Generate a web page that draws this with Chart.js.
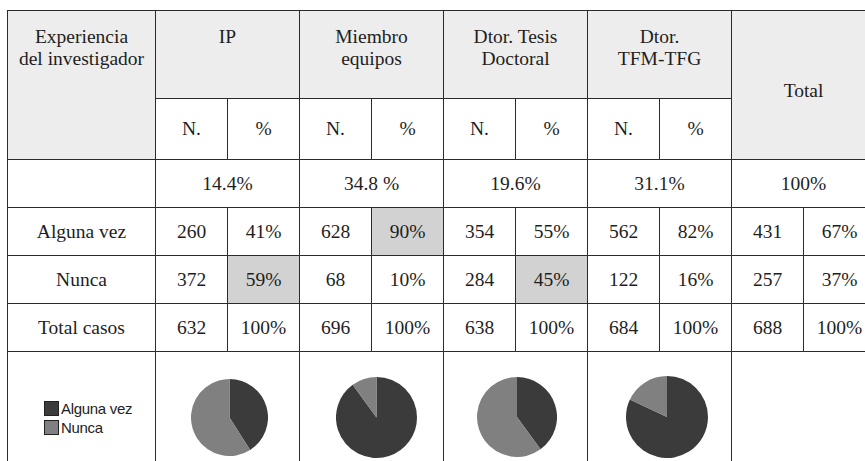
<!DOCTYPE html>
<html>
<head>
<meta charset="utf-8">
<script src="https://cdn.jsdelivr.net/npm/chart.js@4/dist/chart.umd.min.js"></script>
<style>
  html, body { margin: 0; padding: 0; background: #fff; width: 865px; height: 461px; overflow: hidden; }
  table {
    position: absolute; left: 7px; top: 10px;
    border-collapse: collapse; table-layout: fixed; width: 868px;
    color: #1e1e1e;
  }
  td {
    font-family: 'Liberation Serif', 'Times New Roman', Times, 'DejaVu Serif', serif; font-size: 19.5px;
    border: 1px solid #2b2b2b; text-align: center; vertical-align: middle; padding: 0; white-space: nowrap; overflow: hidden;
  }
  td.head { background: #ededed; vertical-align: top; padding-top: 15px; line-height: 22px; }
  td.headMid { background: #ededed; vertical-align: middle; padding-top: 12px; }
  td.shade { background: #d2d2d2; }
  .pieBox { position: relative; height: 112px; }
  .pieBox canvas { position: absolute; }
  .legend { position: absolute; left: 36px; top: 43px; font-family: 'Liberation Sans', Arial, sans-serif; font-size: 15px; color: #222; text-align: left; letter-spacing: -0.3px; line-height: 19px; }
  .legend div { display: flex; align-items: center; height: 19px; }
  .legend span.sw { display: inline-block; width: 13px; height: 13px; border: 1px solid #222; margin-right: 2px; }
</style>
</head>
<body>
<table id="tbl"></table>
<script>
// Column groups of the table
const groupLabels = [["IP"], ["Miembro", "equipos"], ["Dtor. Tesis", "Doctoral"], ["Dtor.", "TFM-TFG"]];
const totalLabel = "Total";
const rowHeaderLabel = ["Experiencia", "del investigador"];
const subLabels = ["N.", "%"];
const sampleShare = ["14.4%", "34.8 %", "19.6%", "31.1%", "100%"];
const rowLabels = ["Alguna vez", "Nunca", "Total casos"];

// Counts and percentages per group (last entry = Total)
const algunaN = [260, 628, 354, 562, 431];
const algunaPct = ["41%", "90%", "55%", "82%", "67%"];
const nuncaN = [372, 68, 284, 122, 257];
const nuncaPct = ["59%", "10%", "45%", "16%", "37%"];
const casosN = [632, 696, 638, 684, 688];
const casosPct = ["100%", "100%", "100%", "100%", "100%"];

// Pie row: share of each answer per group
const seriesNames = ["Alguna vez", "Nunca"];
const pieAlguna = [41, 90, 40, 82];
const pieNunca = [59, 10, 60, 18];

// Styling
const sliceColors = ["#3b3b3b", "#808080"];
const shadedCells = ["0-1", "1-0", "1-2"];          // row-group pairs with grey fill
const colWidths = [148, 72, 72, 72, 72, 72, 72, 72, 72, 72, 72];
const rowHeights = [88, 61, 48, 48, 48, 48, 120];
const pieLayout = [{ dx: 1, d: 77 }, { dx: 4, d: 81 }, { dx: 1, d: 80 }, { dx: 7, d: 82 }];

const tbl = document.getElementById("tbl");
const cg = document.createElement("colgroup");
colWidths.forEach(w => { const c = document.createElement("col"); c.style.width = w + "px"; cg.appendChild(c); });
tbl.appendChild(cg);

function row(h) { const tr = document.createElement("tr"); tr.style.height = h + "px"; tbl.appendChild(tr); return tr; }
function cell(tr, html, opts = {}) {
  const td = document.createElement("td");
  td.innerHTML = html;
  if (opts.cls) td.className = opts.cls;
  if (opts.colspan) td.colSpan = opts.colspan;
  if (opts.rowspan) td.rowSpan = opts.rowspan;
  tr.appendChild(td);
  return td;
}

// Header rows
let tr = row(rowHeights[0]);
cell(tr, rowHeaderLabel.join("<br>"), { cls: "head", rowspan: 2 });
groupLabels.forEach(g => cell(tr, g.join("<br>"), { cls: "head", colspan: 2 }));
cell(tr, totalLabel, { cls: "headMid", colspan: 2, rowspan: 2 });
tr = row(rowHeights[1]);
groupLabels.forEach(() => subLabels.forEach(s => cell(tr, s)));

// Share of sample
tr = row(rowHeights[2]);
cell(tr, "");
sampleShare.forEach(s => cell(tr, s, { colspan: 2 }));

// Answer rows
const bodyRows = [[algunaN, algunaPct], [nuncaN, nuncaPct], [casosN, casosPct]];
bodyRows.forEach(([ns, ps], r) => {
  const t = row(rowHeights[3 + r]);
  cell(t, rowLabels[r]);
  ns.forEach((n, g) => {
    cell(t, String(n));
    cell(t, ps[g], { cls: shadedCells.includes(r + "-" + g) ? "shade" : "" });
  });
});

// Pie row
tr = row(rowHeights[6]);
const legendTd = cell(tr, "");
const lbox = document.createElement("div");
lbox.className = "pieBox";
const legend = document.createElement("div");
legend.className = "legend";
seriesNames.forEach((name, i) => {
  const it = document.createElement("div");
  it.innerHTML = '<span class="sw" style="background:' + sliceColors[i] + '"></span>' + name;
  legend.appendChild(it);
});
lbox.appendChild(legend);
legendTd.appendChild(lbox);

groupLabels.forEach((g, i) => {
  const td = cell(tr, "", { colspan: 2 });
  const box = document.createElement("div");
  box.className = "pieBox";
  const cv = document.createElement("canvas");
  const L = pieLayout[i];
  cv.width = L.d; cv.height = L.d;
  cv.style.width = L.d + "px"; cv.style.height = L.d + "px";
  cv.style.left = (72 + L.dx - L.d / 2) + "px";
  cv.style.top = (61.5 - L.d / 2) + "px";
  box.appendChild(cv);
  td.appendChild(box);
  new Chart(cv, {
    type: "pie",
    data: {
      labels: seriesNames,
      datasets: [{ data: [pieAlguna[i], pieNunca[i]], backgroundColor: sliceColors, borderWidth: 0 }]
    },
    options: {
      responsive: false,
      animation: false,
      events: [],
      layout: { padding: 0 },
      plugins: { legend: { display: false }, tooltip: { enabled: false } }
    }
  });
});
cell(tr, "", { colspan: 2 });
</script>
</body>
</html>
